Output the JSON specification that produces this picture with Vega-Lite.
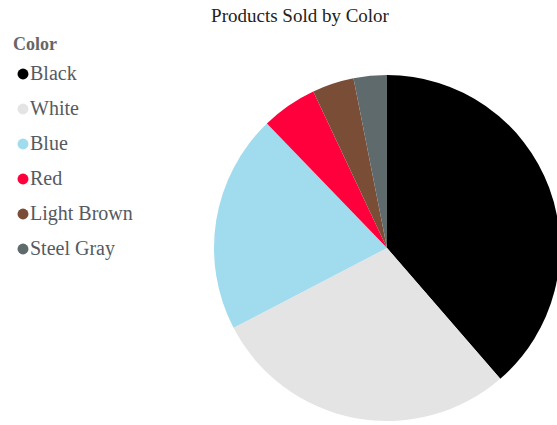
{
  "$schema": "https://vega.github.io/schema/vega-lite/v6.json",
  "autosize": {"type": "none"},
  "width": 346,
  "height": 346,
  "padding": {"left": 214, "top": 75, "right": 0, "bottom": 4},
  "background": "white",
  "title": {
    "text": "Products Sold by Color",
    "font": "Liberation Serif",
    "fontSize": 19,
    "fontWeight": "normal",
    "color": "#222222",
    "anchor": "middle",
    "frame": "group",
    "dx": -87,
    "offset": 10
  },
  "data": {
    "values": [
      {"color": "Black", "sold": 386, "idx": 1},
      {"color": "White", "sold": 287, "idx": 2},
      {"color": "Blue", "sold": 204, "idx": 3},
      {"color": "Red", "sold": 52, "idx": 4},
      {"color": "Light Brown", "sold": 39, "idx": 5},
      {"color": "Steel Gray", "sold": 31, "idx": 6}
    ]
  },
  "mark": {"type": "arc", "outerRadius": 173},
  "encoding": {
    "theta": {"field": "sold", "type": "quantitative", "stack": true},
    "order": {"field": "idx", "type": "quantitative"},
    "color": {
      "field": "color",
      "type": "nominal",
      "scale": {
        "domain": ["Black", "White", "Blue", "Red", "Light Brown", "Steel Gray"],
        "range": ["#000000", "#e4e4e4", "#a1dcee", "#ff003c", "#7a4e36", "#5f6a6c"]
      },
      "legend": {
        "title": "Color",
        "orient": "none",
        "legendX": -201,
        "legendY": -39,
        "padding": 0,
        "titleFont": "Liberation Serif",
        "titleFontSize": 18,
        "titleFontWeight": "bold",
        "titleColor": "#666666",
        "titlePadding": 10,
        "labelFont": "Liberation Serif",
        "labelFontSize": 20,
        "labelColor": "#555a60",
        "labelOffset": -3,
        "symbolType": "circle",
        "symbolSize": 120,
        "symbolStrokeWidth": 0,
        "rowPadding": 15
      }
    }
  },
  "config": {"view": {"stroke": null}}
}
